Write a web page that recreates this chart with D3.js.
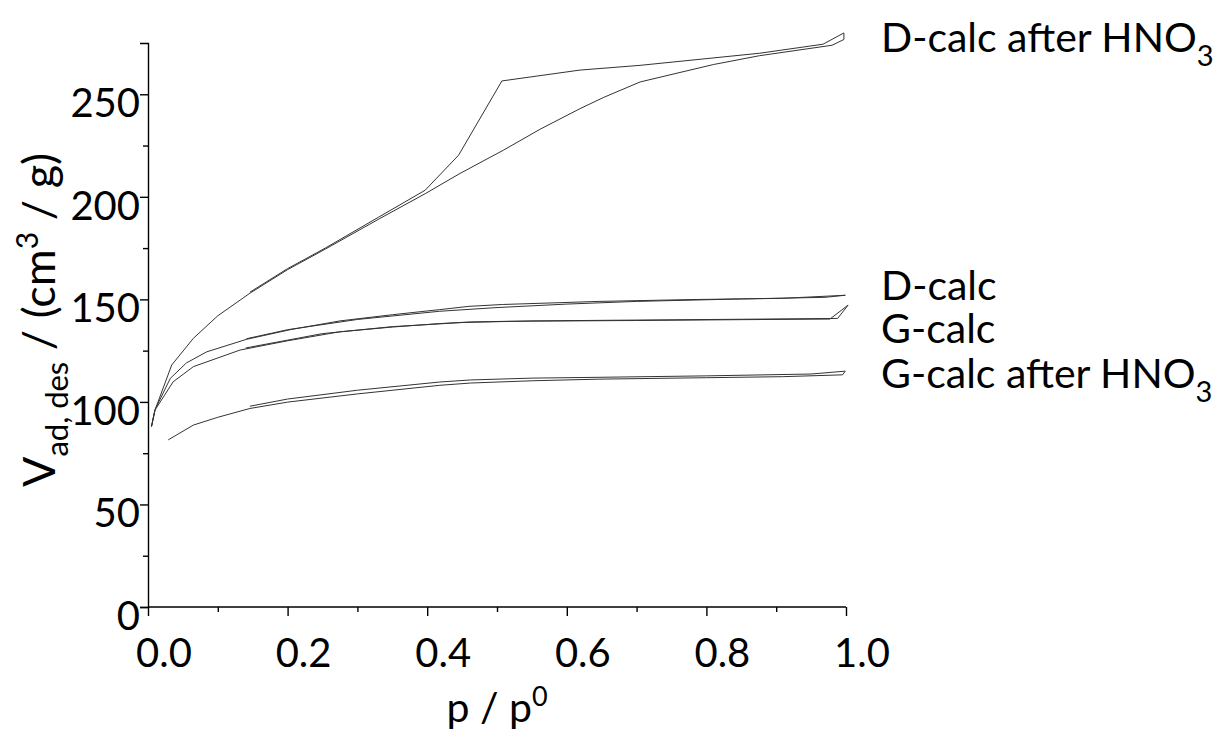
<!DOCTYPE html>
<html>
<head>
<meta charset="utf-8">
<script src="https://cdn.jsdelivr.net/npm/d3@7"></script>
<style>
  body { margin: 0; background: #fff; }
  text { font-family: Lato, "Noto Sans", sans-serif; fill: #000; }
</style>
</head>
<body>
<svg id="chart" width="1226" height="731"></svg>
<script>
// isotherms: adsorption branch then desorption branch, [p/p0, V]
const dCalcHno3 = [
  [0.005, 88], [0.01, 96], [0.034, 118], [0.065, 131], [0.1, 142], [0.146, 153],
  [0.2, 164.5], [0.254, 174.5], [0.332, 189.4], [0.397, 201.5], [0.447, 211.4],
  [0.509, 222.7], [0.562, 233], [0.619, 243], [0.653, 248.5], [0.705, 256],
  [0.81, 264.5], [0.876, 268.8], [0.98, 273.9], [0.997, 276.7],
  [0.997, 279.9], [0.967, 274.4], [0.876, 270], [0.705, 264.1], [0.619, 261.8],
  [0.507, 256.5], [0.445, 220.3], [0.397, 203.2], [0.33, 190], [0.254, 175],
  [0.2, 165], [0.146, 153.5]
];

const dCalc = [
  [0.005, 88], [0.01, 96.2], [0.032, 111.5], [0.055, 119], [0.084, 124.4],
  [0.141, 130.5], [0.205, 135.3], [0.275, 139.5], [0.35, 142.5], [0.418, 145],
  [0.46, 146.6], [0.508, 147.5], [0.646, 149], [0.778, 149.9], [0.909, 150.5],
  [0.999, 152],
  [0.97, 151], [0.85, 150.2], [0.7, 149], [0.6, 147.7], [0.5, 146],
  [0.418, 144.2], [0.3, 140.2], [0.2, 135.2], [0.141, 130.8]
];

const gCalc = [
  [0.005, 88], [0.01, 96], [0.036, 109.8], [0.065, 117.2], [0.132, 125.3],
  [0.2, 129.8], [0.275, 134.2], [0.35, 136.5], [0.418, 138.2], [0.462, 139],
  [0.514, 139.3], [0.7, 139.7], [0.85, 140.1], [0.977, 140.4], [1.003, 147.2],
  [0.988, 140.7], [0.85, 140.3], [0.7, 139.9], [0.55, 139.5], [0.45, 138.7],
  [0.35, 136.7], [0.25, 133.3], [0.14, 126.3]
];

const gCalcHno3 = [
  [0.029, 81.5], [0.065, 88.7], [0.1, 92.5], [0.146, 96.8], [0.2, 99.9],
  [0.3, 103.9], [0.418, 108.1], [0.462, 109.2], [0.55, 110.3], [0.646, 111.1],
  [0.8, 111.8], [0.909, 112.3], [0.995, 113.2],
  [0.999, 115], [0.95, 113.6], [0.8, 112.7], [0.646, 112], [0.55, 111.6],
  [0.462, 110.7], [0.418, 109.7], [0.3, 105.7], [0.2, 101.4], [0.146, 97.9]
];

const series = [dCalcHno3, dCalc, gCalc, gCalcHno3];

const xMajor = [0, 0.2, 0.4, 0.6, 0.8, 1.0];
const xMinor = [0.1, 0.3, 0.5, 0.7, 0.9];
const yMajor = [0, 50, 100, 150, 200, 250];
const yMinor = [25, 75, 125, 175, 225];

const labels = [
  {name: "D-calc after HNO", sub: "3", y: 52},
  {name: "D-calc", sub: "", y: 300},
  {name: "G-calc", sub: "", y: 343},
  {name: "G-calc after HNO", sub: "3", y: 388}
];

const svg = d3.select("#chart");

const x = d3.scaleLinear().domain([0, 1]).range([148, 846]);
const y = d3.scaleLinear().domain([0, 275]).range([607, 43]);

// curves
const line = d3.line().x(d => x(d[0])).y(d => y(d[1]));

svg.append("g").selectAll("path")
  .data(series)
  .enter().append("path")
  .attr("d", line)
  .attr("fill", "none")
  .attr("stroke", "#333")
  .attr("stroke-width", 1)
  .attr("stroke-linejoin", "round");

// x axis
const gx = svg.append("g").attr("transform", `translate(0,${y(0)})`);
gx.call(d3.axisBottom(x).tickValues(xMajor).tickSize(9).tickFormat(""));
gx.append("g").call(d3.axisBottom(x).tickValues(xMinor).tickSize(5).tickFormat(""))
  .select(".domain").remove();
gx.selectAll(".domain").attr("d", `M${x(0)},0H${x(1)}`);

gx.selectAll(".tick-label")
  .data(xMajor)
  .enter().append("text")
  .attr("class", "tick-label")
  .attr("x", d => x(d) + 16)
  .attr("y", 60)
  .attr("text-anchor", "middle")
  .style("font-size", "40px")
  .text(d => d.toFixed(1));

// y axis
const gy = svg.append("g").attr("transform", `translate(${x(0)},0)`);
gy.call(d3.axisLeft(y).tickValues(yMajor).tickSize(8).tickFormat(""));
gy.append("g").call(d3.axisLeft(y).tickValues(yMinor).tickSize(5).tickFormat(""))
  .select(".domain").remove();

gy.selectAll(".tick-label")
  .data(yMajor)
  .enter().append("text")
  .attr("class", "tick-label")
  .attr("x", -8)
  .attr("y", d => y(d) + 23)
  .attr("text-anchor", "end")
  .style("font-size", "40px")
  .text(d => d);

svg.selectAll(".domain, .tick line").attr("stroke", "#000").attr("stroke-width", 1.4);

// axis titles
const xt = svg.append("text")
  .attr("x", 497)
  .attr("y", 722)
  .attr("text-anchor", "middle")
  .style("font-size", "41px");
xt.append("tspan").text("p / p");
xt.append("tspan").attr("dy", -16).style("font-size", "27px").text("0");

const yt = svg.append("text")
  .attr("transform", "translate(55,320) rotate(-90)")
  .attr("text-anchor", "middle")
  .style("font-size", "45px");
yt.append("tspan").text("V");
yt.append("tspan").attr("dy", 13).style("font-size", "31px").text("ad, des");
yt.append("tspan").attr("dy", -13).text(" / (cm");
yt.append("tspan").attr("dy", -17).style("font-size", "30px").text("3");
yt.append("tspan").attr("dy", 17).text(" / g)");

// curve labels
const lab = svg.append("g").selectAll("text")
  .data(labels)
  .enter().append("text")
  .attr("x", 881)
  .attr("y", d => d.y)
  .style("font-size", "41px");
lab.append("tspan").text(d => d.name);
lab.append("tspan").attr("dy", 14).style("font-size", "29px").text(d => d.sub);
</script>
</body>
</html>
